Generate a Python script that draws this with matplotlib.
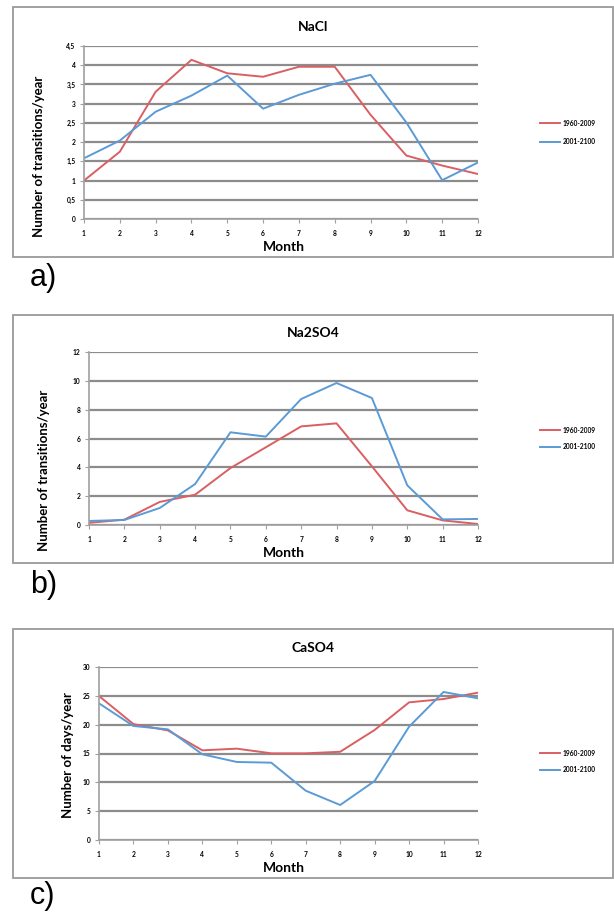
import numpy as np
import matplotlib
matplotlib.use('Agg')
import matplotlib.pyplot as plt
from matplotlib.patches import Rectangle

months = list(range(1, 13))
series_labels = ['1960-2009', '2001-2100']

nacl_past = [1.0, 1.75, 3.31, 4.14, 3.79, 3.70, 3.96, 3.96, 2.71, 1.65, 1.39, 1.17]
nacl_future = [1.58, 2.04, 2.79, 3.21, 3.73, 2.87, 3.23, 3.52, 3.75, 2.51, 1.01, 1.47]

na2so4_past = [0.15, 0.37, 1.6, 2.1, 3.95, 5.39, 6.84, 7.05, 4.07, 1.02, 0.32, 0.07]
na2so4_future = [0.28, 0.35, 1.18, 2.84, 6.43, 6.13, 8.74, 9.85, 8.81, 2.75, 0.39, 0.42]

caso4_past = [24.97, 20.1, 19.0, 15.55, 15.84, 15.03, 15.03, 15.3, 19.08, 23.87, 24.45, 25.55]
caso4_future = [23.7, 19.77, 19.19, 14.86, 13.53, 13.41, 8.55, 6.07, 10.23, 19.65, 25.67, 24.57]

W, H = 614, 915
red = '#d95f63'
blue = '#5b9bd5'
grid_col = '#8c8c8c'
font = ['Lato', 'DejaVu Sans']

def fx(x):
    return x / W

def fy(y):
    return 1 - y / H

def comma(v):
    s = ('%g' % v)
    return s.replace('.', ',')

fig = plt.figure(figsize=(W / 100, H / 100), dpi=100)

panels = [
    # title, past, future, ymax, ystep, ylabel, axes px (l, r, t, b), frame px (t, b),
    # letter, letter y, legend ys, title y, xlabel y, ylabel x, ylabel centre y
    ('NaCl', nacl_past, nacl_future, 4.5, 0.5, 'Number of transitions/year', (84, 478, 46, 219), (7, 257), 'a)', 278, (123, 142), 27, 247, 39, 156),
    ('Na2SO4', na2so4_past, na2so4_future, 12, 2, 'Number of transitions/year', (89, 478, 352, 525), (315, 563), 'b)', 585, (430, 447), 333, 553, 44, 470),
    ('CaSO4', caso4_past, caso4_future, 30, 5, 'Number of days/year', (99, 478, 667, 840), (629, 878), 'c)', 896, (753, 770), 648, 868, 68, 755),
]

for title, past, fut, ymax, ystep, ylabel, box, frame, letter, letter_y, leg_y, title_y, xlab_y, ylab_x, ylab_y in panels:
    ft, fb = frame
    fig.patches.append(Rectangle((fx(13), fy(fb)), fx(613) - fx(13), fy(ft) - fy(fb),
                                 transform=fig.transFigure, fill=False,
                                 edgecolor='#9a9a9a', linewidth=1.3))
    l, r, t, b = box
    ax = fig.add_axes([fx(l), fy(b), fx(r) - fx(l), fy(t) - fy(b)])
    ax.plot(months, past, color=red, linewidth=1.4)
    ax.plot(months, fut, color=blue, linewidth=1.4)
    ax.set_xlim(1, 12)
    ax.set_ylim(0, ymax)
    yt = np.arange(0, ymax + ystep / 2, ystep)
    ax.set_yticks(yt)
    ax.set_yticklabels([comma(v) for v in yt])
    ax.set_xticks(months)
    ax.yaxis.grid(True, color=grid_col, linewidth=1.6)
    ax.set_axisbelow(True)
    for s in ['top', 'right']:
        ax.spines[s].set_visible(False)
    for s in ['left', 'bottom']:
        ax.spines[s].set_color('#a0a0a0')
        ax.spines[s].set_linewidth(1.2)
    ax.tick_params(axis='x', length=3, color='#a0a0a0', pad=5)
    ax.tick_params(axis='y', length=3, color='#a0a0a0', pad=3)
    for lab in ax.get_xticklabels() + ax.get_yticklabels():
        lab.set_fontsize(4.8)
        lab.set_fontweight('bold')
        lab.set_family(font)
    fig.text(fx(313), fy(title_y), title, ha='center', va='center',
             fontsize=10, fontweight='bold', family=font)
    fig.text(fx(284), fy(xlab_y), 'Month', ha='center', va='center',
             fontsize=10, fontweight='bold', family=font)
    fig.text(fx(ylab_x), fy(ylab_y), ylabel, ha='center', va='center',
             rotation=90, fontsize=9.5, fontweight='bold', family=font)
    fig.text(fx(30), fy(letter_y), letter, ha='left', va='center',
             fontsize=22, family=['Liberation Sans', 'DejaVu Sans'])
    for yy, col, lab in zip(leg_y, [red, blue], series_labels):
        fig.add_artist(plt.Line2D([fx(540), fx(560)], [fy(yy), fy(yy)],
                                  color=col, linewidth=1.4, transform=fig.transFigure))
        fig.text(fx(563), fy(yy), lab, ha='left', va='center',
                 fontsize=4.8, fontweight='bold', family=font)

fig.savefig('out.png', dpi=100)
